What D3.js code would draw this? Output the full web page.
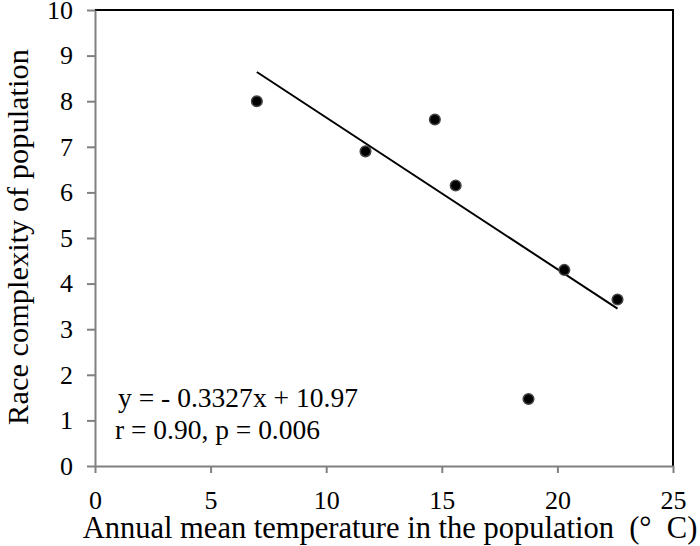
<!DOCTYPE html>
<html>
<head>
<meta charset="utf-8">
<script src="https://cdn.jsdelivr.net/npm/d3@7"></script>
<style>
  body { margin: 0; background: #fff; }
</style>
</head>
<body>
<svg id="chart" width="700" height="546"></svg>
<script>
// data
const temperature = [7.0, 11.7, 14.7, 15.6, 18.75, 20.3, 22.6];
const complexity = [8.0, 6.9, 7.6, 6.15, 1.47, 4.3, 3.65];
const xTicks = [0, 5, 10, 15, 20, 25];
const yTicks = [0, 1, 2, 3, 4, 5, 6, 7, 8, 9, 10];
const slope = -0.3327, intercept = 10.97;
const fitRange = [7.0, 22.6];
const eqLines = ['y = - 0.3327x + 10.97', 'r = 0.90, p = 0.006'];
const xTitle = 'Annual mean temperature in the population\u00A0 (\u00B0\u00A0 C)';
const yTitle = 'Race complexity of population';

const FONT = '"Liberation Serif", "Times New Roman", Times, serif';
const svg = d3.select('#chart');
const W = 700, H = 546;
const margin = { left: 95, right: 27, top: 10, bottom: 80 };

const x = d3.scaleLinear().domain([0, 25]).range([margin.left, W - margin.right]);
const y = d3.scaleLinear().domain([0, 10]).range([H - margin.bottom, margin.top]);

// shrink/grow a text so it spans a given width
function fitText(sel, width) {
  const len = sel.node().getComputedTextLength();
  const fs = parseFloat(sel.style('font-size'));
  sel.style('font-size', (fs * width / len).toFixed(2) + 'px');
  return sel;
}

// top and right frame
svg.append('path')
  .attr('d', `M${x(0)},${y(10)}H${x(25)}V${y(0)}`)
  .attr('fill', 'none')
  .attr('stroke', '#000')
  .attr('stroke-width', 2);

const xAxis = svg.append('g')
  .attr('transform', `translate(0,${y(0)})`)
  .call(d3.axisBottom(x).tickValues(xTicks).tickSize(7).tickSizeOuter(0).tickPadding(18));
const yAxis = svg.append('g')
  .attr('transform', `translate(${x(0)},0)`)
  .call(d3.axisLeft(y).tickValues(yTicks).tickSize(8).tickSizeOuter(0).tickPadding(14));

[xAxis, yAxis].forEach(g => {
  g.attr('font-family', FONT).attr('font-size', 26);
  g.select('.domain').attr('stroke', '#808080').attr('stroke-width', 2);
  g.selectAll('.tick line').attr('stroke', '#808080').attr('stroke-width', 2);
  g.selectAll('.tick text')
    .style('font-family', FONT)
    .style('font-size', '26px')
    .attr('fill', '#000');
});

// fitted line
svg.append('line')
  .attr('x1', x(fitRange[0])).attr('y1', y(intercept + slope * fitRange[0]))
  .attr('x2', x(fitRange[1])).attr('y2', y(intercept + slope * fitRange[1]))
  .attr('stroke', '#000')
  .attr('stroke-width', 2);

// points
svg.append('g').selectAll('circle')
  .data(temperature.map((t, i) => [t, complexity[i]]))
  .join('circle')
  .attr('cx', d => x(d[0]))
  .attr('cy', d => y(d[1]))
  .attr('r', 5.3)
  .attr('fill', '#000')
  .attr('stroke', '#444')
  .attr('stroke-width', 1.5);

// equation
const eqPos = [{ x: 118, y: 407, w: 240 }, { x: 115, y: 439, w: 205 }];
eqLines.forEach((t, i) => {
  const txt = svg.append('text')
    .attr('x', eqPos[i].x)
    .attr('y', eqPos[i].y)
    .style('font-family', FONT)
    .style('font-size', '26px')
    .text(t);
  fitText(txt, eqPos[i].w);
});

// axis titles
const xt = svg.append('text')
  .attr('x', 390)
  .attr('y', 538)
  .attr('text-anchor', 'middle')
  .style('font-family', FONT)
  .style('font-size', '30px')
  .text(xTitle);
fitText(xt, 615);

const yt = svg.append('text')
  .attr('transform', `translate(28,237) rotate(-90)`)
  .attr('text-anchor', 'middle')
  .style('font-family', FONT)
  .style('font-size', '30px')
  .text(yTitle);
fitText(yt, 376);
</script>
</body>
</html>
